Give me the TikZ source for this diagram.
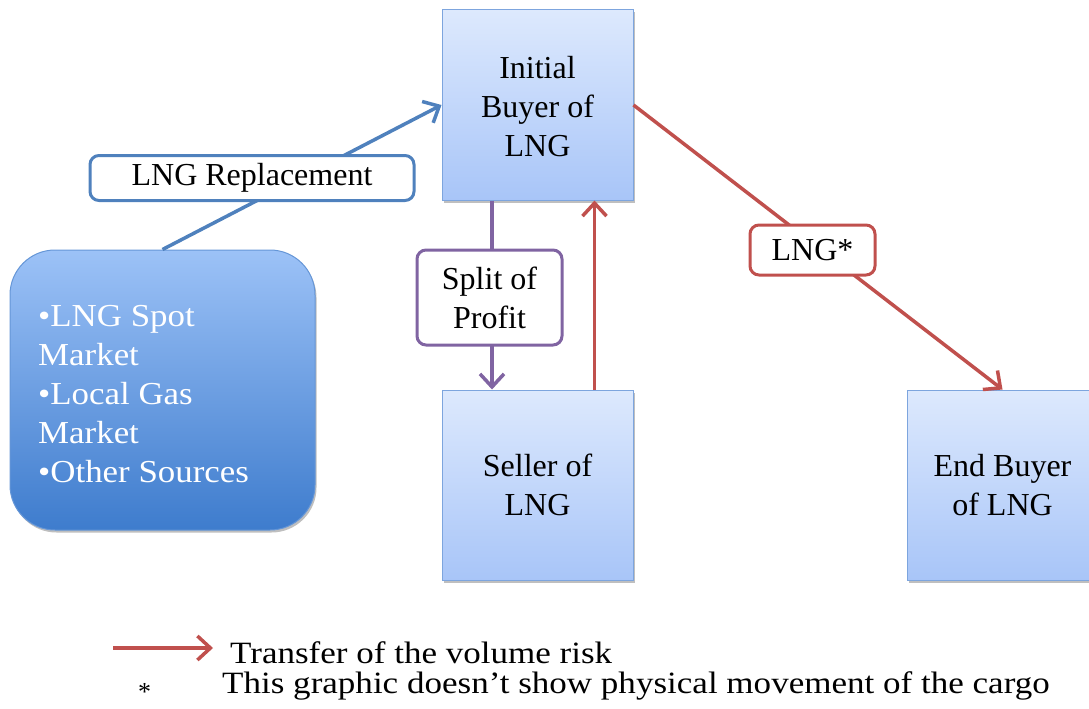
\documentclass[tikz,border=0pt]{standalone}
\usepackage{fontspec}
\setmainfont{Liberation Serif}
\usetikzlibrary{arrows.meta,shadows,calc}

\definecolor{boxtop}{HTML}{DDE9FD}
\definecolor{boxbot}{HTML}{A8C5F8}
\definecolor{boxline}{HTML}{7DA5DE}
\definecolor{srctop}{HTML}{9CC2F7}
\definecolor{srcbot}{HTML}{3E7CCD}
\definecolor{flowblue}{HTML}{4F81BD}
\definecolor{flowred}{HTML}{C0504D}
\definecolor{flowpurple}{HTML}{8064A2}

\tikzset{
  party/.style={draw=boxline, line width=1pt, top color=boxtop, bottom color=boxbot,
    minimum width=191pt, minimum height=190pt, align=center, inner sep=0pt,
    font=\fontsize{32}{39}\selectfont,
    drop shadow={shadow xshift=1.5pt, shadow yshift=-2.5pt, opacity=0.25, fill=black}},
  tag/.style={draw=#1, line width=3pt, fill=white, rounded corners=9pt,
    align=center, inner sep=0pt, font=\fontsize{32}{39}\selectfont},
  flow/.style={draw=#1, line width=3.5pt,
    -{Straight Barb[length=13pt, width=24pt, line width=3.5pt]}},
  legendtext/.style={anchor=base west, inner sep=0pt, font=\fontsize{31}{34}\selectfont},
}

\begin{document}
\begin{tikzpicture}[x=1pt, y=-1pt]
\useasboundingbox (0,0) rectangle (1089,709);
\begin{scope}
\clip (0,0) rectangle (1089,709);

% trading parties
\node[party] (ib) at (537.5,105) {\\[-14pt]Initial\\Buyer of\\LNG};
\node[party] (sl) at (537.5,485) {Seller of\\LNG};
\node[party] (eb) at (1002.5,485) {End Buyer\\of LNG};

% alternative supply sources
\node[draw=srcbot!80!white, line width=1pt, top color=srctop, bottom color=srcbot,
  rounded corners=45pt, minimum width=305pt, minimum height=280pt, inner sep=0pt,
  drop shadow={shadow xshift=1.5pt, shadow yshift=-2.5pt, opacity=0.25, fill=black}]
  (src) at (162.5,390) {};
\node[anchor=north west, align=left, text=white, inner sep=0pt,
  font=\fontsize{32}{39}\selectfont] (srctxt) at (38,305)
  {\scalebox{1.09}[1]{\textbullet LNG Spot}\\\scalebox{1.09}[1]{Market}\\
   \scalebox{1.09}[1]{\textbullet Local Gas}\\\scalebox{1.09}[1]{Market}\\
   \scalebox{1.09}[1]{\textbullet Other Sources}};

% flows
\draw[flow=flowblue] (src.north) -- (ib.west);
\draw[flow=flowpurple] (ib.south -| 492,0) -- (sl.north -| 492,0);
\draw[flow=flowred] ($(sl.north east)+(-39,0)$) -- ($(ib.south east)+(-39,0)$);
\draw[flow=flowred] (ib.east) -- (eb.north);

% flow labels
\node[tag=flowblue, minimum width=324pt, minimum height=45pt] (repl) at (252,178) {LNG Replacement};
\node[tag=flowpurple, minimum width=145pt, minimum height=95pt] (split) at (489.5,297.5) {Split of\\Profit};
\node[tag=flowred, minimum width=125pt, minimum height=50pt] (lngs) at (812.5,250) {LNG*};

% legend
\coordinate (la) at (113,648);
\coordinate (lb) at (213,648);
\draw[flow=flowred] (la) -- (lb);
\node[legendtext] (l1) at (230,663) {\scalebox{1.13}[1]{Transfer of the volume risk}};
\node[anchor=base west, inner sep=0pt, font=\fontsize{26}{30}\selectfont] (star) at (138,700) {*};
\node[legendtext] (l2) at (222,693)
  {\scalebox{1.13}[1]{This graphic doesn't show physical movement of the cargo}};
\end{scope}
\end{tikzpicture}
\end{document}
